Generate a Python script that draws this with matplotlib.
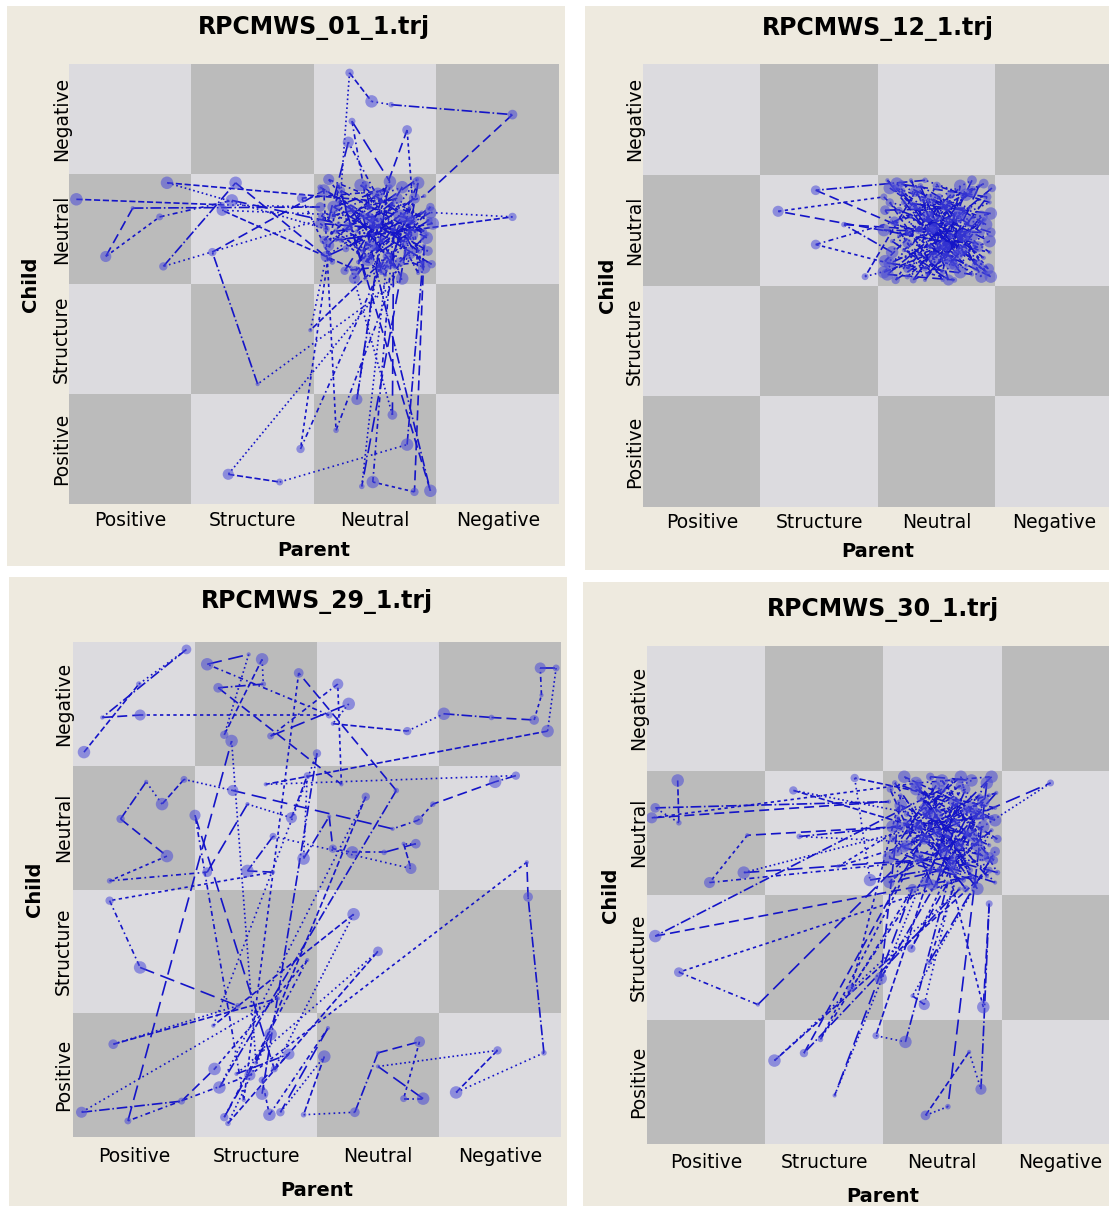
import numpy as np
import matplotlib
matplotlib.use("Agg")
import matplotlib.pyplot as plt
from matplotlib.collections import LineCollection
from matplotlib.colors import ListedColormap
from matplotlib.patches import Rectangle

plt.rcParams['font.family'] = ['DejaVu Sans']

states = ["Positive", "Structure", "Neutral", "Negative"]

# trajectories: x = parent state, y = child state (cell units, 0..4)
x01 = [0.06, 1.25, 2.05, 0.52, 0.30, 0.74, 1.33, 2.20, 2.29, 2.47,
       2.63, 3.62, 2.90, 2.45, 2.31, 2.62, 2.18, 3.62, 2.95, 2.40,
       2.76, 2.85, 2.28, 2.10, 0.80, 2.55, 0.77, 1.36, 2.15, 1.90,
       2.60, 2.35, 2.55, 2.72, 1.54, 1.17, 2.08, 2.18, 2.70, 2.92,
       1.30, 1.72, 2.76, 2.90, 2.82, 2.48, 2.65, 2.64, 2.30, 1.25,
       2.40, 2.95, 2.20, 1.89, 2.85, 2.39, 2.60, 1.97, 2.12, 2.45,
       2.75, 2.88, 2.25, 2.50, 2.05, 2.93, 2.35, 2.68, 2.15, 2.80,
       2.55, 2.42, 2.97, 2.22, 2.62, 2.78, 2.33, 2.50, 2.90, 2.70,
       2.08, 2.52, 2.86, 2.30, 2.66, 2.12, 2.94, 2.44, 2.20, 2.74,
       2.38, 2.90, 2.05, 2.58, 2.82, 2.26, 2.70, 2.48, 2.96, 2.16,
       2.62, 2.34, 2.88, 2.10, 2.54, 2.78, 2.42, 2.22, 2.92, 2.64,
       2.28, 2.84, 2.46, 2.06, 2.72, 2.36, 2.95, 2.56, 2.18, 2.80]
y01 = [2.77, 2.72, 2.70, 2.69, 2.25, 2.61, 2.76, 2.55, 3.92, 3.66,
       3.63, 3.54, 2.80, 2.60, 3.48, 2.93, 2.40, 2.61, 2.65, 2.30,
       3.40, 2.10, 3.29, 2.50, 2.92, 2.75, 2.16, 2.92, 2.20, 2.78,
       2.85, 0.95, 2.40, 2.05, 1.09, 2.29, 2.85, 0.67, 2.20, 2.45,
       0.27, 0.20, 0.54, 2.35, 0.11, 0.20, 2.50, 0.81, 2.15, 2.67,
       2.62, 0.12, 2.90, 0.50, 2.92, 0.16, 2.25, 1.58, 2.35, 2.70,
       2.60, 2.20, 2.12, 2.55, 2.88, 2.30, 2.48, 2.78, 2.62, 2.45,
       2.10, 2.90, 2.55, 2.40, 2.18, 2.70, 2.05, 2.33, 2.15, 2.52,
       2.40, 2.82, 2.30, 2.68, 2.15, 2.95, 2.58, 2.22, 2.75, 2.38,
       2.90, 2.48, 2.55, 2.08, 2.78, 2.32, 2.62, 2.45, 2.18, 2.70,
       2.88, 2.12, 2.65, 2.25, 2.60, 2.28, 2.05, 2.85, 2.42, 2.72,
       2.52, 2.95, 2.35, 2.62, 2.88, 2.20, 2.70, 2.15, 2.48, 2.58]

x12 = [2.10, 2.35, 2.80, 2.55, 1.15, 2.05, 2.62, 2.90, 2.25, 2.75,
       2.40, 1.47, 2.15, 2.85, 2.30, 2.68, 2.95, 2.50, 2.12, 1.71,
       2.45, 2.92, 2.58, 2.20, 2.80, 2.35, 2.97, 2.08, 2.65, 1.47,
       2.28, 2.72, 2.52, 2.88, 2.18, 2.60, 2.95, 2.40, 2.06, 2.78,
       2.32, 1.89, 2.48, 2.85, 2.15, 2.70, 2.55, 2.25, 2.90, 2.42,
       2.62, 2.10, 2.80, 2.35, 2.96, 2.22, 2.58, 2.75, 2.45, 2.88,
       2.05, 2.95, 2.20, 2.70, 2.45, 2.90, 2.12, 2.60, 2.38, 2.85,
       2.08, 2.52, 2.78, 2.25, 2.96, 2.32, 2.68, 2.15, 2.88, 2.42,
       2.62, 2.06, 2.82, 2.48, 2.28, 2.94, 2.18, 2.72, 2.55, 2.10,
       2.92, 2.36, 2.65, 2.22, 2.80, 2.50, 2.05, 2.76, 2.30, 2.96,
       2.44, 2.14, 2.86, 2.58, 2.26, 2.70, 2.40, 2.93, 2.16, 2.66]
y12 = [2.88, 2.70, 2.95, 2.40, 2.67, 2.80, 2.20, 2.60, 2.15, 2.82,
       2.95, 2.86, 2.55, 2.35, 2.05, 2.62, 2.75, 2.90, 2.30, 2.55,
       2.50, 2.12, 2.72, 2.92, 2.45, 2.28, 2.88, 2.10, 2.05, 2.37,
       2.62, 2.32, 2.80, 2.08, 2.45, 2.58, 2.40, 2.15, 2.68, 2.70,
       2.85, 2.08, 2.25, 2.55, 2.05, 2.90, 2.12, 2.38, 2.25, 2.62,
       2.45, 2.20, 2.10, 2.50, 2.65, 2.75, 2.35, 2.18, 2.78, 2.48,
       2.50, 2.30, 2.85, 2.12, 2.65, 2.92, 2.40, 2.05, 2.78, 2.18,
       2.95, 2.35, 2.58, 2.08, 2.48, 2.70, 2.28, 2.88, 2.62, 2.10,
       2.82, 2.22, 2.38, 2.52, 2.95, 2.15, 2.68, 2.45, 2.05, 2.75,
       2.55, 2.90, 2.18, 2.32, 2.85, 2.60, 2.12, 2.42, 2.72, 2.08,
       2.35, 2.58, 2.90, 2.25, 2.48, 2.66, 2.05, 2.80, 2.92, 2.30]

x29 = [0.09, 0.54, 0.93, 0.24, 0.55, 2.10, 1.10, 1.44, 1.24, 1.55,
       1.56, 1.19, 2.20, 2.17, 1.62, 2.26, 2.13, 2.74, 3.04, 3.43,
       3.78, 3.84, 3.83, 3.96, 3.89, 1.58, 3.63, 3.46, 2.95, 2.83,
       2.62, 1.31, 0.91, 0.73, 0.60, 0.39, 0.77, 0.30, 1.10, 1.43,
       1.79, 1.92, 1.89, 2.10, 2.13, 2.29, 2.55, 2.81, 2.71, 2.77,
       1.64, 1.43, 1.64, 0.30, 0.55, 1.35, 0.33, 1.68, 0.07, 0.89,
       1.16, 1.92, 1.24, 1.62, 1.27, 2.50, 1.34, 1.77, 1.55, 1.61,
       2.09, 1.70, 2.06, 1.89, 2.31, 2.50, 2.84, 2.71, 2.87, 2.50,
       3.48, 3.14, 3.86, 3.73, 3.72, 1.45, 0.45, 1.30, 1.50, 2.40,
       1.20, 2.65, 1.85, 1.40, 1.00, 1.65, 2.30, 1.15, 2.00, 1.55]
y29 = [3.11, 3.66, 3.94, 3.39, 3.41, 3.41, 3.82, 3.90, 3.25, 3.86,
       3.66, 3.63, 2.85, 3.66, 3.24, 3.50, 3.34, 3.28, 3.42, 3.39,
       3.37, 3.57, 3.79, 3.79, 3.28, 2.85, 2.92, 2.87, 2.69, 2.56,
       2.49, 2.80, 2.89, 2.69, 2.87, 2.57, 2.27, 2.07, 2.14, 2.69,
       2.58, 2.92, 2.25, 2.59, 2.33, 2.30, 2.30, 2.37, 2.37, 2.17,
       2.43, 2.15, 2.14, 1.91, 1.37, 1.06, 0.75, 1.12, 0.20, 0.29,
       0.55, 1.43, 0.16, 0.83, 0.11, 1.50, 0.51, 0.67, 0.46, 0.18,
       0.88, 0.20, 0.65, 0.18, 0.20, 0.68, 0.77, 0.31, 0.31, 0.57,
       0.70, 0.36, 0.68, 1.94, 2.22, 0.50, 0.13, 3.20, 0.60, 2.75,
       0.40, 2.80, 3.75, 0.30, 2.60, 0.55, 1.80, 0.90, 3.10, 0.35]

x30 = [0.26, 0.27, 0.07, 2.05, 0.04, 2.30, 2.92, 2.55, 1.24, 2.80,
       1.29, 2.15, 0.85, 0.53, 2.60, 0.82, 2.95, 1.76, 1.89, 2.40,
       2.70, 1.62, 2.20, 3.42, 2.85, 2.10, 2.50, 0.07, 2.75, 0.27,
       0.94, 2.35, 2.90, 1.08, 2.65, 1.33, 2.45, 1.47, 2.25, 1.59,
       2.60, 1.94, 2.19, 2.55, 2.24, 2.80, 2.39, 2.95, 2.25, 2.35,
       2.70, 1.98, 2.15, 1.73, 2.88, 2.55, 2.36, 2.73, 2.83, 2.90,
       2.85, 2.50, 2.40, 2.75, 2.20, 2.65, 2.95, 2.30, 2.08, 2.85,
       2.45, 2.62, 2.18, 2.92, 2.35, 2.72, 2.05, 2.55, 2.80, 2.40,
       2.97, 2.28, 2.68, 2.12, 2.58, 2.90, 2.48, 2.75, 2.22, 2.65,
       2.95, 2.10, 2.60, 2.82, 2.30, 2.70, 2.15, 2.90, 2.45, 2.05,
       2.78, 2.38, 2.96, 2.52, 2.20, 2.66, 2.88, 2.32, 2.75, 2.12,
       2.58, 2.92, 2.42, 2.06, 2.84, 2.26, 2.70, 2.50, 2.97, 2.18,
       2.64, 2.36, 2.86, 2.08, 2.56, 2.94, 2.28, 2.74, 2.46, 2.90]
y30 = [2.92, 2.58, 2.70, 2.75, 2.62, 2.90, 2.95, 2.60, 2.84, 2.40,
       2.47, 2.55, 2.48, 2.10, 2.30, 2.18, 2.70, 2.94, 2.12, 2.20,
       2.85, 2.23, 2.40, 2.90, 2.55, 2.15, 2.85, 1.67, 2.15, 1.38,
       1.12, 2.45, 2.20, 0.67, 2.05, 0.73, 2.65, 0.84, 2.05, 0.39,
       2.75, 0.87, 0.82, 2.10, 1.57, 2.65, 1.46, 2.35, 1.19, 1.12,
       2.50, 1.33, 2.80, 1.25, 2.90, 0.30, 0.23, 0.74, 0.44, 1.93,
       1.10, 2.40, 2.95, 2.92, 2.65, 2.40, 2.10, 2.30, 2.45, 2.75,
       2.08, 2.58, 2.95, 2.62, 2.70, 2.25, 2.10, 2.48, 2.05, 2.55,
       2.45, 2.85, 2.12, 2.35, 2.92, 2.30, 2.20, 2.70, 2.52, 2.88,
       2.60, 2.90, 2.20, 2.80, 2.55, 2.05, 2.72, 2.40, 2.88, 2.30,
       2.12, 2.65, 2.82, 2.35, 2.58, 2.95, 2.15, 2.78, 2.48, 2.62,
       2.25, 2.52, 2.08, 2.85, 2.32, 2.45, 2.68, 2.92, 2.18, 2.38,
       2.75, 2.10, 2.62, 2.55, 2.42, 2.28, 2.90, 2.20, 2.50, 2.80]

W, H = 1109, 1206
fig = plt.figure(figsize=(W / 100, H / 100), dpi=100)
fig.patch.set_facecolor('white')

beige = '#EEEADF'
dark = '#BBBBBB'
light = '#DCDBDF'
line_c = '#1414C8'
dot_c = '#4B4BD8'

dashes = ['--', (0, (1, 2)), '-.', (0, (6, 3)), (0, (2, 2)), (0, (3, 2, 1, 2)), (0, (9, 4)), ':']
msizes = [9, 4, 7, 3, 8, 5, 9, 3, 6]

def fx(px):
    return px / W

def fy(py):
    return 1 - py / H

def ptext(x, y, s, **kw):
    fig.text(fx(x), fy(y), s, **kw)

# title, data, panel box, plot box, baselines (title, xticks, xlabel, yticks x, ylabel x)
panels = [
    ("RPCMWS_01_1.trj", x01, y01, (7, 6, 565, 566), (69, 64, 559, 504), (34, 526, 556, 67, 36)),
    ("RPCMWS_12_1.trj", x12, y12, (585, 6, 1109, 570), (643, 64, 1113, 507), (35, 528, 557, 640, 613)),
    ("RPCMWS_29_1.trj", x29, y29, (9, 577, 567, 1206), (73, 642, 561, 1137), (608, 1162, 1196, 69, 40)),
    ("RPCMWS_30_1.trj", x30, y30, (583, 582, 1109, 1206), (647, 646, 1119, 1144), (616, 1168, 1202, 644, 616)),
]

board = np.indices((4, 4)).sum(axis=0) % 2

for title, xs, ys, pbox, abox, base in panels:
    l, t, r, b = pbox
    fig.add_artist(Rectangle((fx(l), fy(b)), (r - l) / W, (b - t) / H,
                             transform=fig.transFigure, facecolor=beige,
                             edgecolor='none', zorder=-1))
    al, at, ar, ab = abox
    ax = fig.add_axes([fx(al), fy(ab), (ar - al) / W, (ab - at) / H])
    ax.imshow(board, cmap=ListedColormap([dark, light]), extent=(0, 4, 0, 4),
              origin='lower', interpolation='nearest', aspect='auto')

    pts = np.column_stack([xs, ys])
    segs = np.stack([pts[:-1], pts[1:]], axis=1)
    styles = [dashes[i % len(dashes)] for i in range(len(segs))]
    ax.add_collection(LineCollection(segs, colors=line_c, linewidths=1.2,
                                     linestyles=styles, zorder=2))
    sizes = [msizes[i % len(msizes)] ** 2 for i in range(len(xs))]
    ax.scatter(xs, ys, s=sizes, color=dot_c, alpha=0.55, edgecolors='none', zorder=3)
    ax.set_xlim(0, 4)
    ax.set_ylim(0, 4)
    ax.axis('off')

    cw = (ar - al) / 4
    rh = (ab - at) / 4
    ptext((al + ar) / 2, base[0], title, ha='center', va='baseline',
          fontsize=17, fontweight='bold')
    for i, s in enumerate(states):
        ptext(al + (i + 0.5) * cw, base[1], s, ha='center', va='baseline', fontsize=13.5)
        ptext(base[3], ab - (i + 0.5) * rh, s, ha='center', va='baseline',
              rotation=90, rotation_mode='anchor', fontsize=13.5)
    ptext((al + ar) / 2, base[2], "Parent", ha='center', va='baseline',
          fontsize=14, fontweight='bold')
    ptext(base[4], (at + ab) / 2, "Child", ha='center', va='baseline',
          rotation=90, rotation_mode='anchor', fontsize=14, fontweight='bold')

fig.savefig("out.png", dpi=100)
